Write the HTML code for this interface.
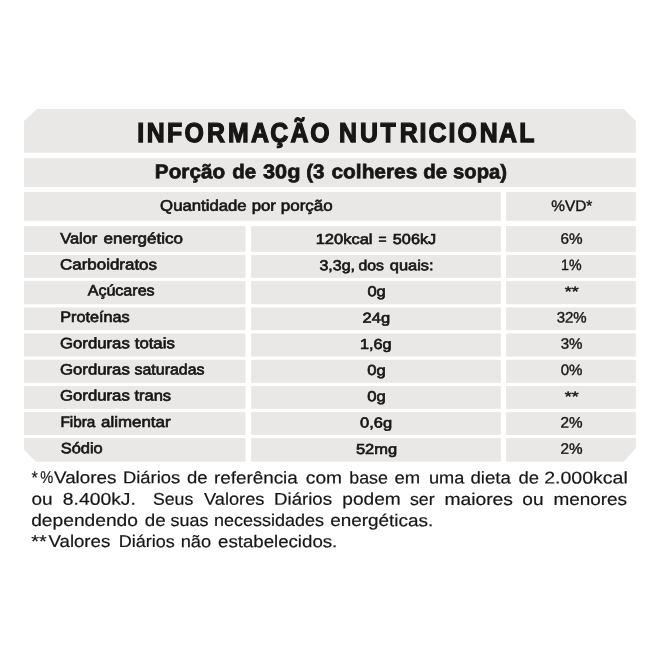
<!DOCTYPE html>
<html lang="pt-BR">
<head>
<meta charset="utf-8">
<title>Informação Nutricional</title>
<style>
html,body{margin:0;padding:0;background:#fff;}
body{width:660px;height:660px;overflow:hidden;}
svg{display:block;}
text{font-family:"Liberation Sans",sans-serif;fill:#171615;text-rendering:geometricPrecision;}
.b{font-weight:bold;stroke:#171615;stroke-width:1.3px;}
.s{font-weight:bold;stroke:#171615;stroke-width:0.7px;}
.m{font-weight:normal;stroke:#171615;stroke-width:0.65px;}
.r{font-weight:normal;stroke:#171615;stroke-width:0.4px;}
.l{font-weight:normal;stroke:#171615;stroke-width:0.2px;}
</style>
</head>
<body>
<svg width="660" height="660" viewBox="0 0 660 660">
<g fill="#e9e8e7">
<polygon points="36.8,108.9 623.8,108.9 635.8,121.10 635.8,152.8 24,152.8 24,120.90"/>
<rect x="24" y="158.2" width="611.80" height="28.80"/>
<rect x="24" y="191.9" width="476.90" height="28.90"/>
<rect x="506.1" y="191.9" width="129.70" height="28.90"/>
<rect x="24" y="226.1" width="221.50" height="25.70"/>
<rect x="251.1" y="226.1" width="249.80" height="25.70"/>
<rect x="506.1" y="226.1" width="129.70" height="25.70"/>
<rect x="24" y="255.0" width="221.50" height="22.90"/>
<rect x="251.1" y="255.0" width="249.80" height="22.90"/>
<rect x="506.1" y="255.0" width="129.70" height="22.90"/>
<rect x="24" y="281.1" width="221.50" height="23.10"/>
<rect x="251.1" y="281.1" width="249.80" height="23.10"/>
<rect x="506.1" y="281.1" width="129.70" height="23.10"/>
<rect x="24" y="307.4" width="221.50" height="22.80"/>
<rect x="251.1" y="307.4" width="249.80" height="22.80"/>
<rect x="506.1" y="307.4" width="129.70" height="22.80"/>
<rect x="24" y="333.4" width="221.50" height="23.20"/>
<rect x="251.1" y="333.4" width="249.80" height="23.20"/>
<rect x="506.1" y="333.4" width="129.70" height="23.20"/>
<rect x="24" y="359.8" width="221.50" height="23.00"/>
<rect x="251.1" y="359.8" width="249.80" height="23.00"/>
<rect x="506.1" y="359.8" width="129.70" height="23.00"/>
<rect x="24" y="386.0" width="221.50" height="22.90"/>
<rect x="251.1" y="386.0" width="249.80" height="22.90"/>
<rect x="506.1" y="386.0" width="129.70" height="22.90"/>
<rect x="24" y="412.1" width="221.50" height="22.80"/>
<rect x="251.1" y="412.1" width="249.80" height="22.80"/>
<rect x="506.1" y="412.1" width="129.70" height="22.80"/>
<polygon points="24,438.1 245.5,438.1 245.5,461.7 35.8,461.7 24,449.40"/>
<rect x="251.1" y="438.1" width="249.80" height="23.60"/>
<polygon points="506.1,438.1 635.8,438.1 635.8,447.90 623.80,461.7 506.1,461.7"/>
</g>
<g>
<text class="b" transform="rotate(0.03 336 141.75) scale(0.91,1)" x="150.81 161.28 183.58 202.73 227.49 250.55 275.88 297.08 319.24 340.96 363.74 372.57 395.57 418.22 439.30 461.10 470.96 492.77 502.74 527.33 548.48 570.50" y="141.75" font-size="27.3">INFORMAÇÃO NUTRICIONAL</text>
<text class="s" y="178.30" font-size="19.8" transform="rotate(0.03 331.1 178.30)"><tspan x="154.84" textLength="70.29" lengthAdjust="spacingAndGlyphs">Porção</tspan> <tspan x="232.28" textLength="23.82" lengthAdjust="spacingAndGlyphs">de</tspan> <tspan x="263.06" textLength="37.43" lengthAdjust="spacingAndGlyphs">30g</tspan> <tspan x="306.28" textLength="18.28" lengthAdjust="spacingAndGlyphs">(3</tspan> <tspan x="331.50" textLength="85.80" lengthAdjust="spacingAndGlyphs">colheres</tspan> <tspan x="423.25" textLength="23.88" lengthAdjust="spacingAndGlyphs">de</tspan> <tspan x="453.07" textLength="53.95" lengthAdjust="spacingAndGlyphs">sopa)</tspan></text>
<text class="m" y="210.70" font-size="15.3" transform="rotate(0.03 246.4 210.70)"><tspan x="160.14" textLength="86.51" lengthAdjust="spacingAndGlyphs">Quantidade</tspan> <tspan x="251.65" textLength="24.23" lengthAdjust="spacingAndGlyphs">por</tspan> <tspan x="280.84" textLength="51.85" lengthAdjust="spacingAndGlyphs">porção</tspan></text>
<text class="r" y="210.90" font-size="15.4" transform="rotate(0.03 572.0 210.90)"><tspan x="551.33" textLength="40.97" lengthAdjust="spacingAndGlyphs">%VD*</tspan></text>
<text class="m" y="243.43" font-size="15.05" transform="rotate(0.03 121.5 243.43)"><tspan x="60.28" textLength="37.03" lengthAdjust="spacingAndGlyphs">Valor</tspan> <tspan x="103.59" textLength="79.27" lengthAdjust="spacingAndGlyphs">energético</tspan></text>
<text class="m" y="244.03" font-size="14.5" transform="rotate(0.03 375.9 244.03)"><tspan x="315.69" textLength="56.78" lengthAdjust="spacingAndGlyphs">120kcal</tspan> <tspan x="378.48" textLength="8.00" lengthAdjust="spacingAndGlyphs">=</tspan> <tspan x="392.81" textLength="43.40" lengthAdjust="spacingAndGlyphs">506kJ</tspan></text>
<text class="r" y="243.85" font-size="15.0" transform="rotate(0.03 571.6 243.85)"><tspan x="560.48" textLength="22.07" lengthAdjust="spacingAndGlyphs">6%</tspan></text>
<text class="m" y="269.62" font-size="15.05" transform="rotate(0.03 108.7 269.62)"><tspan x="60.03" textLength="96.97" lengthAdjust="spacingAndGlyphs">Carboidratos</tspan></text>
<text class="m" y="270.23" font-size="14.5" transform="rotate(0.03 376.2 270.23)"><tspan x="319.48" textLength="35.54" lengthAdjust="spacingAndGlyphs">3,3g,</tspan> <tspan x="358.53" textLength="25.44" lengthAdjust="spacingAndGlyphs">dos</tspan> <tspan x="389.89" textLength="43.68" lengthAdjust="spacingAndGlyphs">quais:</tspan></text>
<text class="r" y="270.05" font-size="15.0" transform="rotate(0.03 571.5 270.05)"><tspan x="561.01" textLength="20.51" lengthAdjust="spacingAndGlyphs">1%</tspan></text>
<text class="m" y="295.62" font-size="15.05" transform="rotate(0.03 120.9 295.62)"><tspan x="87.72" textLength="66.86" lengthAdjust="spacingAndGlyphs">Açúcares</tspan></text>
<text class="m" y="296.23" font-size="14.5" transform="rotate(0.03 376.4 296.23)"><tspan x="367.44" textLength="18.34" lengthAdjust="spacingAndGlyphs">0g</tspan></text>
<text class="r" y="296.05" font-size="13.7" transform="rotate(0.03 571.6 296.05)"><tspan x="564.72" textLength="13.83" lengthAdjust="spacingAndGlyphs">**</tspan></text>
<text class="m" y="322.12" font-size="15.05" transform="rotate(0.03 95.4 322.12)"><tspan x="60.31" textLength="69.43" lengthAdjust="spacingAndGlyphs">Proteínas</tspan></text>
<text class="m" y="322.73" font-size="14.5" transform="rotate(0.03 376.3 322.73)"><tspan x="362.62" textLength="27.51" lengthAdjust="spacingAndGlyphs">24g</tspan></text>
<text class="r" y="322.55" font-size="15.0" transform="rotate(0.03 571.6 322.55)"><tspan x="556.63" textLength="30.02" lengthAdjust="spacingAndGlyphs">32%</tspan></text>
<text class="m" y="348.32" font-size="15.05" transform="rotate(0.03 117.5 348.32)"><tspan x="60.03" textLength="69.77" lengthAdjust="spacingAndGlyphs">Gorduras</tspan> <tspan x="134.72" textLength="40.09" lengthAdjust="spacingAndGlyphs">totais</tspan></text>
<text class="m" y="348.93" font-size="14.5" transform="rotate(0.03 375.7 348.93)"><tspan x="359.90" textLength="31.50" lengthAdjust="spacingAndGlyphs">1,6g</tspan></text>
<text class="r" y="348.75" font-size="15.0" transform="rotate(0.03 571.6 348.75)"><tspan x="560.73" textLength="21.82" lengthAdjust="spacingAndGlyphs">3%</tspan></text>
<text class="m" y="374.53" font-size="15.05" transform="rotate(0.03 132.4 374.53)"><tspan x="60.03" textLength="69.77" lengthAdjust="spacingAndGlyphs">Gorduras</tspan> <tspan x="134.55" textLength="69.95" lengthAdjust="spacingAndGlyphs">saturadas</tspan></text>
<text class="m" y="375.13" font-size="14.5" transform="rotate(0.03 376.2 375.13)"><tspan x="367.18" textLength="18.46" lengthAdjust="spacingAndGlyphs">0g</tspan></text>
<text class="r" y="374.95" font-size="15.0" transform="rotate(0.03 571.6 374.95)"><tspan x="560.73" textLength="21.82" lengthAdjust="spacingAndGlyphs">0%</tspan></text>
<text class="m" y="400.62" font-size="15.05" transform="rotate(0.03 115.5 400.62)"><tspan x="60.03" textLength="69.77" lengthAdjust="spacingAndGlyphs">Gorduras</tspan> <tspan x="134.41" textLength="36.70" lengthAdjust="spacingAndGlyphs">trans</tspan></text>
<text class="m" y="401.23" font-size="14.5" transform="rotate(0.03 376.2 401.23)"><tspan x="367.18" textLength="18.46" lengthAdjust="spacingAndGlyphs">0g</tspan></text>
<text class="r" y="401.05" font-size="13.7" transform="rotate(0.03 571.6 401.05)"><tspan x="564.72" textLength="13.83" lengthAdjust="spacingAndGlyphs">**</tspan></text>
<text class="m" y="427.03" font-size="15.05" transform="rotate(0.03 116.1 427.03)"><tspan x="60.43" textLength="34.95" lengthAdjust="spacingAndGlyphs">Fibra</tspan> <tspan x="101.10" textLength="69.46" lengthAdjust="spacingAndGlyphs">alimentar</tspan></text>
<text class="m" y="427.63" font-size="14.5" transform="rotate(0.03 375.9 427.63)"><tspan x="360.03" textLength="32.05" lengthAdjust="spacingAndGlyphs">0,6g</tspan></text>
<text class="r" y="427.45" font-size="15.0" transform="rotate(0.03 571.6 427.45)"><tspan x="560.48" textLength="22.07" lengthAdjust="spacingAndGlyphs">2%</tspan></text>
<text class="m" y="453.32" font-size="15.05" transform="rotate(0.03 81.7 453.32)"><tspan x="60.70" textLength="42.06" lengthAdjust="spacingAndGlyphs">Sódio</tspan></text>
<text class="m" y="453.93" font-size="14.5" transform="rotate(0.03 376.4 453.93)"><tspan x="355.97" textLength="41.16" lengthAdjust="spacingAndGlyphs">52mg</tspan></text>
<text class="r" y="453.75" font-size="15.0" transform="rotate(0.03 571.6 453.75)"><tspan x="560.48" textLength="22.07" lengthAdjust="spacingAndGlyphs">2%</tspan></text>
<text class="l" y="483.45" font-size="17.0" transform="rotate(0.03 329.1 483.45)"><tspan x="31.45" textLength="6.28" lengthAdjust="spacingAndGlyphs">*</tspan> <tspan x="40.34" textLength="12.99" lengthAdjust="spacingAndGlyphs">%</tspan> <tspan x="54.00" textLength="62.28" lengthAdjust="spacingAndGlyphs">Valores</tspan> <tspan x="123.00" textLength="57.14" lengthAdjust="spacingAndGlyphs">Diários</tspan> <tspan x="186.94" textLength="20.58" lengthAdjust="spacingAndGlyphs">de</tspan> <tspan x="213.92" textLength="83.86" lengthAdjust="spacingAndGlyphs">referência</tspan> <tspan x="305.85" textLength="36.19" lengthAdjust="spacingAndGlyphs">com</tspan> <tspan x="349.29" textLength="38.63" lengthAdjust="spacingAndGlyphs">base</tspan> <tspan x="394.55" textLength="25.57" lengthAdjust="spacingAndGlyphs">em</tspan> <tspan x="428.90" textLength="35.45" lengthAdjust="spacingAndGlyphs">uma</tspan> <tspan x="470.43" textLength="40.45" lengthAdjust="spacingAndGlyphs">dieta</tspan> <tspan x="518.57" textLength="20.53" lengthAdjust="spacingAndGlyphs">de</tspan> <tspan x="544.18" textLength="83.60" lengthAdjust="spacingAndGlyphs">2.000kcal</tspan></text>
<text class="l" y="504.85" font-size="17.0" transform="rotate(0.03 329.2 504.85)"><tspan x="31.52" textLength="21.14" lengthAdjust="spacingAndGlyphs">ou</tspan> <tspan x="62.80" textLength="73.05" lengthAdjust="spacingAndGlyphs">8.400kJ.</tspan> <tspan x="152.96" textLength="40.27" lengthAdjust="spacingAndGlyphs">Seus</tspan> <tspan x="203.95" textLength="60.47" lengthAdjust="spacingAndGlyphs">Valores</tspan> <tspan x="274.09" textLength="57.95" lengthAdjust="spacingAndGlyphs">Diários</tspan> <tspan x="342.33" textLength="58.44" lengthAdjust="spacingAndGlyphs">podem</tspan> <tspan x="409.98" textLength="24.64" lengthAdjust="spacingAndGlyphs">ser</tspan> <tspan x="444.44" textLength="68.52" lengthAdjust="spacingAndGlyphs">maiores</tspan> <tspan x="522.38" textLength="21.21" lengthAdjust="spacingAndGlyphs">ou</tspan> <tspan x="553.42" textLength="73.68" lengthAdjust="spacingAndGlyphs">menores</tspan></text>
<text class="l" y="526.05" font-size="17.0" transform="rotate(0.03 231.7 526.05)"><tspan x="31.20" textLength="106.78" lengthAdjust="spacingAndGlyphs">dependendo</tspan> <tspan x="144.80" textLength="20.86" lengthAdjust="spacingAndGlyphs">de</tspan> <tspan x="170.61" textLength="37.76" lengthAdjust="spacingAndGlyphs">suas</tspan> <tspan x="213.98" textLength="109.99" lengthAdjust="spacingAndGlyphs">necessidades</tspan> <tspan x="330.21" textLength="103.00" lengthAdjust="spacingAndGlyphs">energéticas.</tspan></text>
<text class="l" y="547.15" font-size="17.0" transform="rotate(0.03 183.7 547.15)"><tspan x="31.39" textLength="15.39" lengthAdjust="spacingAndGlyphs">**</tspan> <tspan x="48.56" textLength="61.66" lengthAdjust="spacingAndGlyphs">Valores</tspan> <tspan x="118.83" textLength="55.99" lengthAdjust="spacingAndGlyphs">Diários</tspan> <tspan x="180.69" textLength="30.52" lengthAdjust="spacingAndGlyphs">não</tspan> <tspan x="218.02" textLength="119.27" lengthAdjust="spacingAndGlyphs">estabelecidos.</tspan></text>
</g>
</svg>
</body>
</html>
